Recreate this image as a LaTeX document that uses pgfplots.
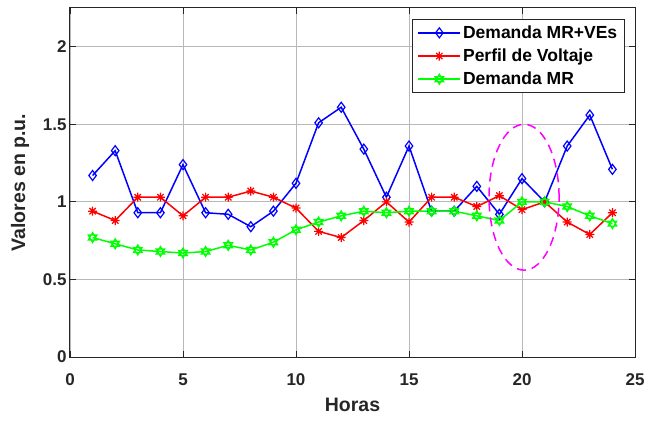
\documentclass[border=0pt]{standalone}
\usepackage{fontspec}
\setmainfont{Liberation Sans}
\usepackage{pgfplots}
\pgfplotsset{compat=1.18}
\pgfdeclareplotmark{matstar}{%
  \pgfpathmoveto{\pgfqpoint{-\pgfplotmarksize}{0pt}}\pgfpathlineto{\pgfqpoint{\pgfplotmarksize}{0pt}}%
  \pgfpathmoveto{\pgfqpoint{0pt}{-\pgfplotmarksize}}\pgfpathlineto{\pgfqpoint{0pt}{\pgfplotmarksize}}%
  \pgfpathmoveto{\pgfqpoint{-0.707\pgfplotmarksize}{-0.707\pgfplotmarksize}}\pgfpathlineto{\pgfqpoint{0.707\pgfplotmarksize}{0.707\pgfplotmarksize}}%
  \pgfpathmoveto{\pgfqpoint{-0.707\pgfplotmarksize}{0.707\pgfplotmarksize}}\pgfpathlineto{\pgfqpoint{0.707\pgfplotmarksize}{-0.707\pgfplotmarksize}}%
  \pgfusepathqstroke}
\pgfdeclareplotmark{hexagram}{%
  \pgfpathmoveto{\pgfqpoint{0pt}{\pgfplotmarksize}}%
  \pgfpathlineto{\pgfqpoint{-0.866\pgfplotmarksize}{-0.5\pgfplotmarksize}}%
  \pgfpathlineto{\pgfqpoint{0.866\pgfplotmarksize}{-0.5\pgfplotmarksize}}%
  \pgfpathclose
  \pgfpathmoveto{\pgfqpoint{0pt}{-\pgfplotmarksize}}%
  \pgfpathlineto{\pgfqpoint{0.866\pgfplotmarksize}{0.5\pgfplotmarksize}}%
  \pgfpathlineto{\pgfqpoint{-0.866\pgfplotmarksize}{0.5\pgfplotmarksize}}%
  \pgfpathclose
  \pgfusepathqstroke}
\definecolor{axgray}{rgb}{0.15,0.15,0.15}
\begin{document}
\begin{tikzpicture}
\begin{axis}[
  at={(0pt,0pt)}, anchor=south west,
  scale only axis, width=565pt, height=349pt,
  xmin=0, xmax=25, ymin=0, ymax=2.25,
  xtick={0,5,10,15,20,25}, ytick={0,0.5,1,1.5,2},
  grid=major, major grid style={black!28, line width=0.8pt},
  axis line style={axgray, line width=1pt},
  tick style={axgray, line width=0.8pt},
  tick align=inside, major tick length=6pt,
  xtick pos=both, ytick pos=both,
  /pgf/number format/assume math mode=true,
  tick label style={font=\fontsize{17}{20}\selectfont\bfseries, text=axgray},
  xticklabel style={yshift=-13pt},
  xlabel={Horas}, ylabel={Valores en p.u.},
  label style={font=\fontsize{19.5}{23}\selectfont\bfseries, text=axgray},
  xlabel style={at={(axis description cs:0.5,-0.137)}, anchor=center},
  ylabel style={at={(axis description cs:-0.0885,0.5)}, anchor=center},
  legend style={at={(axis description cs:0.982,0.968)}, anchor=north east,
    draw=axgray, line width=1.2pt, font=\fontsize{17.5}{21}\selectfont\bfseries,
    row sep=5pt, inner xsep=5pt, inner ysep=4pt, cells={anchor=west}},
  legend image code/.code={\draw[mark repeat=2,mark phase=2] plot coordinates {(0pt,0pt) (21pt,0pt) (42pt,0pt)};},
  legend image post style={line width=1.5pt},
]
\addplot[color=blue, line width=1.5pt, mark=diamond, mark size=5pt, mark options={solid, line width=1.2pt}] coordinates {
(1,1.17) (2,1.33) (3,0.93) (4,0.93) (5,1.24) (6,0.93) (7,0.92) (8,0.84) (9,0.94) (10,1.12)
(11,1.51) (12,1.61) (13,1.34) (14,1.03) (15,1.36) (16,0.94) (17,0.94) (18,1.10) (19,0.92) (20,1.15)
(21,1.00) (22,1.36) (23,1.56) (24,1.21)};
\addlegendentry{Demanda MR+VEs}
\addplot[color=red, line width=1.5pt, mark=matstar, mark size=4.5pt, mark options={solid, line width=1.2pt}] coordinates {
(1,0.94) (2,0.88) (3,1.03) (4,1.03) (5,0.91) (6,1.03) (7,1.03) (8,1.07) (9,1.03) (10,0.96)
(11,0.81) (12,0.77) (13,0.88) (14,1.00) (15,0.87) (16,1.03) (17,1.03) (18,0.97) (19,1.04) (20,0.95)
(21,1.00) (22,0.87) (23,0.79) (24,0.93)};
\addlegendentry{Perfil de Voltaje}
\addplot[color=green, line width=1.5pt, mark=hexagram, mark size=5pt, mark options={solid, line width=1.2pt}] coordinates {
(1,0.77) (2,0.73) (3,0.69) (4,0.68) (5,0.67) (6,0.68) (7,0.72) (8,0.69) (9,0.74) (10,0.82)
(11,0.87) (12,0.91) (13,0.94) (14,0.93) (15,0.94) (16,0.94) (17,0.94) (18,0.91) (19,0.88) (20,1.00)
(21,1.00) (22,0.97) (23,0.91) (24,0.86)};
\addlegendentry{Demanda MR}
\draw[color={rgb,1:red,1;green,0;blue,1}, line width=1.5pt, dash pattern=on 9pt off 6pt] (axis cs:20.09,1.03) ellipse [x radius=1.55, y radius=0.47];
\end{axis}
\pgfresetboundingbox
\path (-70pt,-63pt) rectangle (577pt,357pt);
\end{tikzpicture}
\end{document}
